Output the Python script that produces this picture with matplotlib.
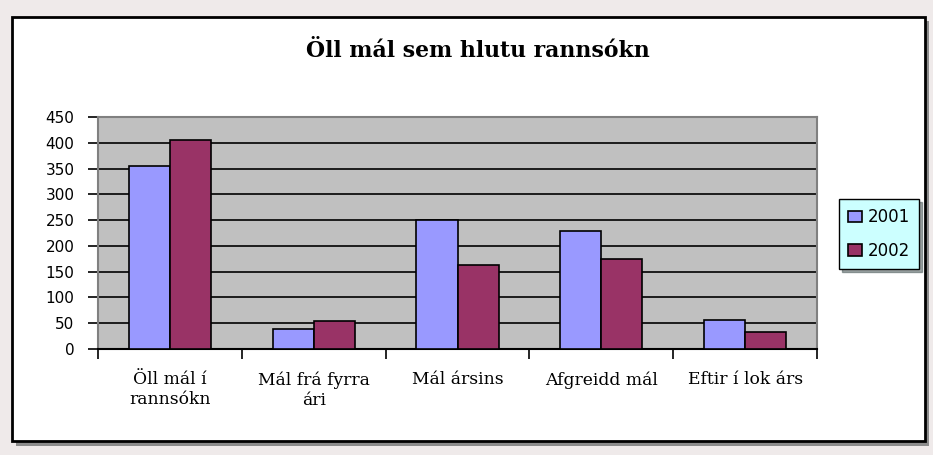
import matplotlib.pyplot as plt
import numpy as np
from matplotlib.patches import Rectangle

categories = ["Öll mál í\nrannsókn", "Mál frá fyrra\nári", "Mál ársins", "Afgreidd mál", "Eftir í lok árs"]
values_2001 = [355, 38, 250, 229, 57]
values_2002 = [405, 54, 162, 175, 33]
series_labels = ["2001", "2002"]
y_ticks = [0, 50, 100, 150, 200, 250, 300, 350, 400, 450]

COLOR_2001 = "#9999ff"
COLOR_2002 = "#993366"
PLOT_BG = "#c0c0c0"

fig = plt.figure(figsize=(9.33, 4.55), dpi=100)
fig.patch.set_facecolor("#efeaea")

# chart frame with shadow
fig.patches.append(Rectangle((16 / 933, 1 - 446 / 455), 913 / 933, 425 / 455,
                             transform=fig.transFigure, facecolor="#8c8c8c",
                             edgecolor="none", zorder=-3))
fig.patches.append(Rectangle((12 / 933, 1 - 441 / 455), 913 / 933, 424 / 455,
                             transform=fig.transFigure, facecolor="white",
                             edgecolor="black", linewidth=2, zorder=-2))

ax = fig.add_axes([98 / 933, 1 - 349 / 455, 719 / 933, 232 / 455])
ax.set_zorder(1)
ax.set_facecolor(PLOT_BG)

x = np.arange(len(categories))
width = 0.286
ax.bar(x - width / 2, values_2001, width, color=COLOR_2001, edgecolor="black",
       linewidth=1.2, label=series_labels[0], zorder=3)
ax.bar(x + width / 2, values_2002, width, color=COLOR_2002, edgecolor="black",
       linewidth=1.2, label=series_labels[1], zorder=3)

ax.set_xlim(-0.5, len(categories) - 0.5)
ax.set_ylim(0, 450)
ax.set_yticks(y_ticks)
ax.set_yticklabels([str(v) for v in y_ticks], fontsize=11, family="DejaVu Sans")
ax.yaxis.grid(True, color="black", linewidth=1.2, zorder=1)
ax.set_axisbelow(True)

ax.set_xticks(x)
ax.set_xticklabels(categories, fontsize=12.3, family="DejaVu Serif", linespacing=1.25)
ax.tick_params(axis="x", length=0, pad=16)
ax.set_xticks(np.arange(len(categories) + 1) - 0.5, minor=True)
ax.tick_params(axis="x", which="minor", length=7, width=1.2, color="black")
ax.tick_params(axis="y", length=7, width=1.2, color="black", pad=10)

for side in ("left", "top", "right"):
    ax.spines[side].set_color("#808080")
    ax.spines[side].set_linewidth(1.5)
ax.spines["bottom"].set_color("black")
ax.spines["bottom"].set_linewidth(1.5)

fig.text(478 / 933, 1 - 51 / 455, "Öll mál sem hlutu rannsókn", ha="center", va="center",
         fontsize=15.8, fontweight="bold", family="DejaVu Serif")

leg = fig.legend(loc="center", bbox_to_anchor=(879 / 933, 1 - 234 / 455),
                 fontsize=12, frameon=True, fancybox=False, shadow=True,
                 handlelength=0.85, handleheight=0.65, handletextpad=0.3,
                 borderpad=0.55, labelspacing=0.95, borderaxespad=0)
frame = leg.get_frame()
frame.set_facecolor("#ccffff")
frame.set_edgecolor("black")
frame.set_linewidth(1.0)
for text in leg.get_texts():
    text.set_family("DejaVu Sans")

fig.savefig("out.png", dpi=100, facecolor=fig.get_facecolor())
